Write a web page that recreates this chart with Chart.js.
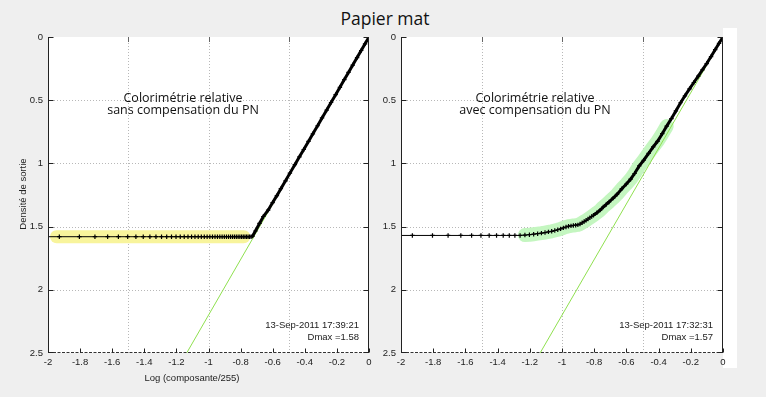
<!DOCTYPE html>
<html>
<head>
<meta charset="utf-8">
<script src="https://cdn.jsdelivr.net/npm/chart.js@4.4.0/dist/chart.umd.min.js"></script>
<style>
    html, body { margin: 0; padding: 0; background: #efefef; }
    #wrap { position: relative; width: 766px; height: 397px; overflow: hidden; background: #efefef; }
    #title { position: absolute; left: 2px; top: 6px; width: 766px; text-align: center;
             font-family: "Open Sans", sans-serif; font-size: 17.5px; color: #111; }
    .panel { position: absolute; top: 0; width: 383px; height: 397px; }
    #strip { position: absolute; left: 723px; top: 28px; width: 14px; height: 340px; background: #fff; }
</style>
</head>
<body>
<div id="wrap">
    <div id="strip"></div>
    <div id="title">Papier mat</div>
    <div class="panel" style="left:0"><canvas id="leftChart" width="383" height="397"></canvas></div>
    <div class="panel" style="left:383px"><canvas id="rightChart" width="383" height="397"></canvas></div>
</div>
<script>
// tick values
var xTickValues = [-2, -1.8, -1.6, -1.4, -1.2, -1, -0.8, -0.6, -0.4, -0.2, 0];
var yTickValues = [0, 0.5, 1, 1.5, 2, 2.5];
var gridX = [-1.5, -1, -0.5];
var gridY = [0.5, 1, 1.5, 2];

// left panel: sans compensation du PN  (component value 0..255, output density)
var leftComp = [2, 3, 4, 5, 6, 7, 8, 9, 10, 11, 12, 13, 14, 15, 16, 17, 18, 19, 20, 21,
    22, 23, 24, 25, 26, 27, 28, 29, 30, 31, 32, 33, 34, 35, 36, 37, 38, 39, 40, 41,
    42, 43, 44, 45, 46, 47,
    48, 50, 53, 56, 60, 64, 68, 72, 77, 82, 88, 94, 100, 107, 114, 122, 130, 139, 148, 158,
    168, 179, 190, 202, 215, 228, 241, 255];
var leftDens = [1.58, 1.58, 1.58, 1.58, 1.58, 1.58, 1.58, 1.58, 1.58, 1.58,
    1.58, 1.58, 1.58, 1.58, 1.58, 1.58, 1.58, 1.58, 1.58, 1.58,
    1.58, 1.58, 1.58, 1.58, 1.58, 1.58, 1.58, 1.58, 1.58, 1.58,
    1.58, 1.58, 1.58, 1.58, 1.58, 1.58, 1.58, 1.58, 1.58, 1.58,
    1.58, 1.58, 1.58, 1.58, 1.58, 1.58,
    1.575, 1.535, 1.475, 1.42, 1.37, 1.31, 1.255, 1.2, 1.138, 1.077, 1.01, 0.948, 0.89, 0.826,
    0.766, 0.702, 0.64, 0.578, 0.518, 0.456, 0.398, 0.337, 0.28, 0.222, 0.163, 0.107, 0.054, 0];

// right panel: avec compensation du PN
var rightComp = [2, 3, 4, 5, 6, 7, 8, 9, 10, 11, 12, 13, 14, 15, 16, 17, 18, 19, 20, 21,
    22, 23, 24, 25, 26, 27, 28, 29, 30, 31, 32, 33, 34, 35, 36, 37, 38, 39, 40,
    42, 44, 46, 48, 50, 53, 56, 60, 64, 68, 72, 77, 82, 88, 94, 100, 107, 114, 122, 130,
    139, 148, 158, 168, 179, 190, 202, 215, 228, 241, 255];
var rightDens = [1.57, 1.57, 1.57, 1.57, 1.57, 1.57, 1.57, 1.57, 1.57, 1.57, 1.57, 1.57, 1.57,
    1.567, 1.564, 1.56, 1.556, 1.552, 1.547, 1.542, 1.537, 1.531, 1.525, 1.518, 1.51, 1.503,
    1.497, 1.494, 1.491, 1.489, 1.486, 1.48, 1.47, 1.46, 1.45, 1.44, 1.43, 1.42, 1.41,
    1.39, 1.37, 1.345, 1.325, 1.305, 1.275, 1.245, 1.20, 1.163, 1.125, 1.08, 1.02, 0.975, 0.92,
    0.87, 0.825, 0.765, 0.705, 0.645, 0.585, 0.52, 0.465, 0.41, 0.36, 0.31, 0.26, 0.21, 0.155,
    0.10, 0.05, 0];

// gamma 2.2 reference line
var refX = [-1.136, 0];
var refDens = [2.5, 0];

// highlighted zones
var yellowBandX = [-1.947, -0.78];
var yellowBandDens = [1.58, 1.58];
var greenBandComp = [15, 114];

var tickFont = { family: '"Liberation Sans", Arial, sans-serif', size: 9.5 };

function toPoints(comps, dens) {
    return comps.map(function (c, i) { return { x: Math.log10(c / 255), y: dens[i] }; });
}

function makePanel(id, cfg) {
    var curve = toPoints(cfg.comp, cfg.dens);
    var datasets = [{
        data: curve,
        showLine: true,
        borderColor: '#000',
        borderWidth: 1,
        pointStyle: 'cross',
        pointRadius: 2.2,
        pointBorderWidth: 1.2,
        pointBorderColor: '#000',
        segment: {
            borderWidth: function (ctx) { return cfg.comp[ctx.p1DataIndex] > cfg.thickFrom ? 3 : 1; }
        },
        order: 1
    }, {
        data: refX.map(function (v, i) { return { x: v, y: refDens[i] }; }),
        showLine: true,
        borderColor: '#8fe04f',
        borderWidth: 1,
        pointRadius: 0,
        order: 2
    }];
    if (cfg.band) {
        datasets.push({
            data: cfg.band,
            showLine: true,
            borderColor: cfg.bandColor,
            borderWidth: cfg.bandWidth,
            borderCapStyle: 'round',
            borderJoinStyle: 'round',
            pointRadius: 0,
            clip: 0,
            order: 3
        });
    }

    var axesPlugin = {
        id: 'matlabAxes',
        beforeDatasetsDraw: function (chart) {
            var ctx = chart.ctx, a = chart.chartArea, x = chart.scales.x, y = chart.scales.y;
            ctx.save();
            ctx.fillStyle = '#fff';
            ctx.fillRect(a.left, a.top, a.right - a.left, a.bottom - a.top);
            ctx.strokeStyle = '#b8b8b8';
            ctx.lineWidth = 1;
            ctx.setLineDash([1, 2]);
            gridX.forEach(function (v) {
                var px = Math.round(x.getPixelForValue(v)) + 0.5;
                ctx.beginPath(); ctx.moveTo(px, a.top); ctx.lineTo(px, a.bottom); ctx.stroke();
            });
            gridY.forEach(function (v) {
                var py = Math.round(y.getPixelForValue(v)) + 0.5;
                ctx.beginPath(); ctx.moveTo(a.left, py); ctx.lineTo(a.right, py); ctx.stroke();
            });
            ctx.restore();
        },
        afterDatasetsDraw: function (chart) {
            var ctx = chart.ctx, a = chart.chartArea, x = chart.scales.x, y = chart.scales.y;
            var l = Math.round(a.left) + 0.5, r = Math.round(a.right) - 0.5, b = Math.round(a.bottom) - 0.5;
            ctx.save();
            ctx.lineWidth = 1;
            // bottom axis, dashed look
            ctx.strokeStyle = '#333';
            ctx.setLineDash([3, 1.5]);
            ctx.beginPath(); ctx.moveTo(l, b); ctx.lineTo(r, b); ctx.stroke();
            ctx.setLineDash([]);
            // left and right box lines
            ctx.strokeStyle = '#222';
            ctx.beginPath();
            ctx.moveTo(l, a.top); ctx.lineTo(l, a.bottom);
            ctx.moveTo(r, a.top); ctx.lineTo(r, a.bottom);
            ctx.stroke();
            // y ticks, inside on both sides
            ctx.beginPath();
            yTickValues.forEach(function (v) {
                var py = Math.round(y.getPixelForValue(v)) + 0.5;
                if (v === 2.5) py -= 1;
                ctx.moveTo(l, py); ctx.lineTo(l + 5, py);
                ctx.moveTo(r, py); ctx.lineTo(r - 5, py);
            });
            // x ticks at bottom
            xTickValues.forEach(function (v) {
                var px = Math.round(x.getPixelForValue(v)) + 0.5;
                ctx.moveTo(px, b); ctx.lineTo(px, b - 4);
            });
            ctx.stroke();
            // top ticks on the grid positions
            ctx.strokeStyle = '#666';
            ctx.beginPath();
            gridX.forEach(function (v) {
                var px = Math.round(x.getPixelForValue(v)) + 0.5;
                ctx.moveTo(px, a.top); ctx.lineTo(px, a.top + 5);
            });
            ctx.stroke();
            ctx.restore();
        },
        afterDraw: function (chart) {
            var ctx = chart.ctx, off = cfg.offset;
            ctx.save();
            ctx.fillStyle = '#111';
            ctx.textAlign = 'center';
            ctx.textBaseline = 'alphabetic';
            ctx.font = '12.5px "Open Sans", sans-serif';
            ctx.fillText(cfg.note[0], cfg.noteX - off, 101.5);
            ctx.fillText(cfg.note[1], cfg.noteX - off, 114);
            ctx.fillStyle = '#222';
            ctx.textAlign = 'right';
            ctx.font = '9.5px "Liberation Sans", Arial, sans-serif';
            ctx.fillText(cfg.stamp, cfg.stampX - off, 328);
            ctx.fillText(cfg.dmax, cfg.stampX - off, 340);
            if (cfg.axisTitles) {
                ctx.textAlign = 'center';
                ctx.textBaseline = 'middle';
                ctx.fillText('Log (composante/255)', 192 - off, 378);
                ctx.translate(23.5, 194);
                ctx.rotate(-Math.PI / 2);
                ctx.fillText('Densité de sortie', 0, 0);
            }
            ctx.restore();
        }
    };

    return new Chart(document.getElementById(id).getContext('2d'), {
        type: 'scatter',
        data: { datasets: datasets },
        options: {
            responsive: false,
            animation: false,
            layout: { padding: { left: 0, right: cfg.padRight, top: 37, bottom: 0 } },
            plugins: { legend: { display: false }, tooltip: { enabled: false } },
            scales: {
                x: {
                    type: 'linear', min: -2, max: 0,
                    afterBuildTicks: function (s) { s.ticks = xTickValues.map(function (v) { return { value: v }; }); },
                    afterFit: function (s) { s.height = 44; },
                    grid: { display: false, drawTicks: false },
                    border: { display: false },
                    ticks: {
                        font: tickFont, color: '#222', padding: 4, maxRotation: 0, autoSkip: false,
                        callback: function (v) { return String(+v.toFixed(1)); }
                    }
                },
                y: {
                    type: 'linear', min: 0, max: 2.5, reverse: true,
                    afterBuildTicks: function (s) { s.ticks = yTickValues.map(function (v) { return { value: v }; }); },
                    afterFit: function (s) { s.width = cfg.yWidth; },
                    grid: { display: false, drawTicks: false },
                    border: { display: false },
                    ticks: {
                        font: tickFont, color: '#222', padding: 5,
                        callback: function (v) { return String(+v.toFixed(1)); }
                    }
                }
            }
        },
        plugins: [axesPlugin]
    });
}

document.addEventListener('DOMContentLoaded', function () {
    // Left chart
    makePanel('leftChart', {
        comp: leftComp, dens: leftDens, thickFrom: 47,
        band: yellowBandX.map(function (v, i) { return { x: v, y: yellowBandDens[i] }; }),
        bandColor: '#f8f49c', bandWidth: 13,
        offset: 0, yWidth: 48, padRight: 14,
        note: ['Colorimétrie relative', 'sans compensation du PN'], noteX: 183,
        stamp: '13-Sep-2011 17:39:21', dmax: 'Dmax =1.58', stampX: 359,
        axisTitles: true
    });

    // Right chart
    var greenBand = toPoints(rightComp, rightDens).filter(function (p, i) {
        return rightComp[i] >= greenBandComp[0] && rightComp[i] <= greenBandComp[1];
    });
    makePanel('rightChart', {
        comp: rightComp, dens: rightDens, thickFrom: 40,
        band: greenBand, bandColor: '#c4f6c0', bandWidth: 14,
        offset: 383, yWidth: 18, padRight: 43,
        note: ['Colorimétrie relative', 'avec compensation du PN'], noteX: 535,
        stamp: '13-Sep-2011 17:32:31', dmax: 'Dmax =1.57', stampX: 713,
        axisTitles: false
    });
});
</script>
</body>
</html>
